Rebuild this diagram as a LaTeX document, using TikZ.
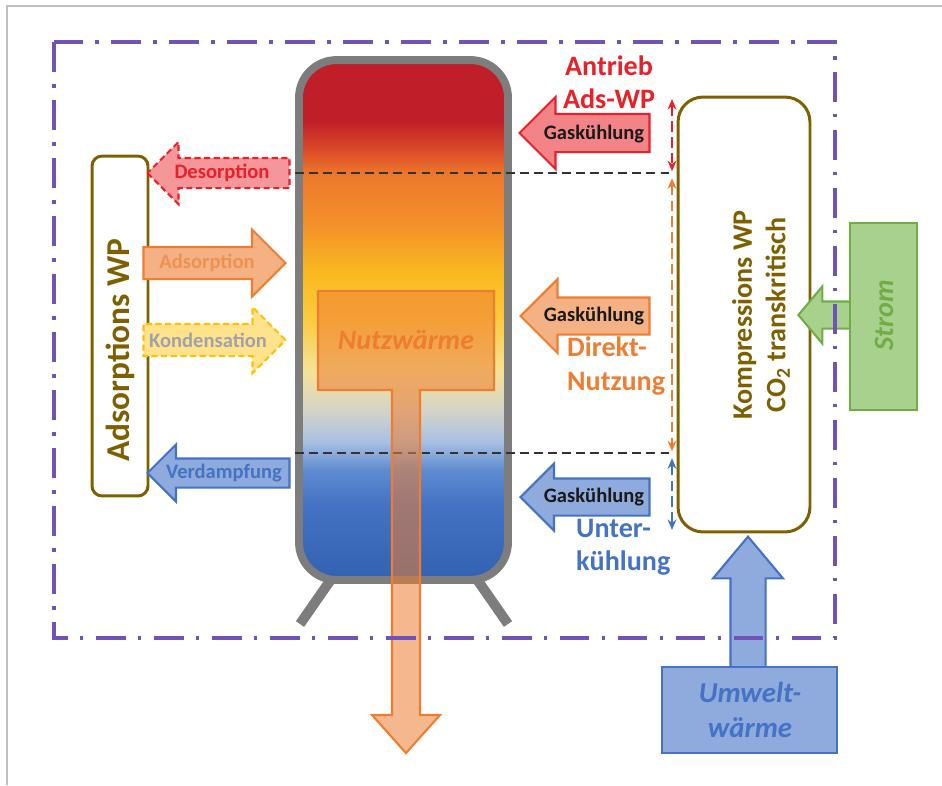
\documentclass[tikz,border=0pt]{standalone}
\usepackage{fontspec}
\setmainfont{Carlito}
\usepackage{tikz}
\usetikzlibrary{shapes.arrows,arrows.meta}

\definecolor{wpred}{RGB}{232,32,40}
\definecolor{wpredfill}{RGB}{242,132,136}
\definecolor{wporange}{RGB}{237,125,49}
\definecolor{wporangefill}{RGB}{244,177,131}
\definecolor{wpyellow}{RGB}{255,192,0}
\definecolor{wpyellowfill}{RGB}{255,226,140}
\definecolor{wpblue}{RGB}{68,114,196}
\definecolor{wpbluefill}{RGB}{143,170,220}
\definecolor{wpgreen}{RGB}{112,173,71}
\definecolor{wpgreenfill}{RGB}{169,209,142}
\definecolor{wpbrown}{RGB}{127,96,0}
\definecolor{wppurple}{RGB}{112,82,184}
\definecolor{wpgray}{RGB}{125,125,125}
\definecolor{wpgraytext}{RGB}{160,162,170}
\definecolor{wpframe}{RGB}{190,190,190}
% tank layers, bottom to top
\definecolor{tankA}{RGB}{52,98,178}
\definecolor{tankB}{RGB}{68,114,196}
\definecolor{tankC}{RGB}{95,140,208}
\definecolor{tankD}{RGB}{168,192,226}
\definecolor{tankE}{RGB}{212,212,200}
\definecolor{tankF}{RGB}{246,226,150}
\definecolor{tankG}{RGB}{252,202,62}
\definecolor{tankH}{RGB}{250,186,32}
\definecolor{tankI}{RGB}{243,142,42}
\definecolor{tankJ}{RGB}{237,120,45}
\definecolor{tankK}{RGB}{220,76,40}
\definecolor{tankL}{RGB}{192,30,40}

\pgfdeclareverticalshading{tankshade}{100bp}{color(0bp)=(tankA); color(25bp)=(tankA); color(32.2bp)=(tankB); color(35.6bp)=(tankC); color(38.3bp)=(tankD); color(41.3bp)=(tankE); color(45.2bp)=(tankF); color(50bp)=(tankG); color(54.3bp)=(tankH); color(59.6bp)=(tankI); color(64bp)=(tankJ); color(66.3bp)=(tankK); color(69.2bp)=(tankL); color(75bp)=(tankL); color(100bp)=(tankL)}

\begin{document}
\begin{tikzpicture}[x=0.02cm,y=-0.02cm,
    blockarrow/.style={single arrow, anchor=tip, minimum width=0pt, line width=1.2pt},
    dasharrow/.style={dash pattern=on 3.5pt off 2pt},
    arrowtext/.style={font=\fontsize{11.7}{14}\selectfont\bfseries},
    sidetext/.style={font=\fontsize{16}{19}\selectfont\bfseries, align=left, anchor=west},
    wpbox/.style={draw=wpbrown, line width=1.7pt, fill=white, inner sep=0pt},
    wptext/.style={font=\fontsize{16}{19}\selectfont\bfseries, text=wpbrown, rotate=90, align=center},
    levelline/.style={draw=black!80, line width=1.1pt, dash pattern=on 5pt off 3pt},
    rangearrow/.style={line width=1.3pt, dash pattern=on 6pt off 3pt, {Stealth[length=6pt,width=5pt]}-{Stealth[length=6pt,width=5pt]}},
    tankleg/.style={draw=wpgray, line width=5.7pt},
  ]
  \useasboundingbox (0,0) rectangle (942,785);
  \draw[wpframe, line width=1.1pt] (7,785) -- (7,6) -- (942,6);

  % storage tank
  \draw[tankleg] (332,578) -- (300,624);
  \draw[tankleg] (476,578) -- (508,624);
  \node[shade, shading=tankshade, draw=wpgray, line width=4.5pt, rounded corners=0.75cm,
        minimum width=4.18cm, minimum height=10.4cm, inner sep=0pt] (tank) at (403.5,320) {};

  \coordinate (hi) at (672,173);
  \coordinate (lo) at (672,453);
  \draw[levelline] (tank.west |- hi) -- (hi);
  \draw[levelline] (tank.west |- lo) -- (lo);

  % useful heat
  \draw[wporange, line width=1.2pt, fill=wporange, fill opacity=0.55]
    (392,390) -- (318,390) -- (318,291) -- (494,291) -- (494,390) -- (420,390)
    -- (420,715) -- (440,715) -- (406,753) -- (372,715) -- (392,715) -- cycle;
  \node[font=\fontsize{16}{19}\selectfont\bfseries\itshape, text=wporange] (nutz) at (406,340) {Nutzwärme};

  % adsorption heat pump
  \node[wpbox, rounded corners=0.2cm, minimum width=1.12cm, minimum height=6.8cm] (adswp) at (120,326) {};
  \node[wptext, font=\fontsize{19}{22}\selectfont\bfseries] (adstext) at (120,350) {Adsorptions WP};

  \node[blockarrow, draw=wpred, fill=wpredfill!85, dasharrow, shape border rotate=180,
        minimum height=2.84cm, inner sep=0.28cm, single arrow head extend=0.32cm] (desorp) at (146,173) {};
  \node[arrowtext, text=wpred] (desorptext) at (222,173) {Desorption};
  \node[blockarrow, draw=wporange, fill=wporangefill,
        minimum height=2.84cm, inner sep=0.3cm, single arrow head extend=0.35cm] (adsorp) at (287,263) {};
  \node[arrowtext, text=wporange!85] (adsorptext) at (207,263) {Adsorption};
  \node[blockarrow, draw=wpyellow, fill=wpyellowfill, dasharrow,
        minimum height=2.84cm, inner sep=0.3cm, single arrow head extend=0.34cm] (kond) at (287,340) {};
  \node[arrowtext, text=wpgraytext] (kondtext) at (208,340) {Kondensation};
  \node[blockarrow, draw=wpblue, fill=wpbluefill, shape border rotate=180,
        minimum height=2.84cm, inner sep=0.27cm, single arrow head extend=0.28cm] (verd) at (146,473) {};
  \node[arrowtext, text=wpblue] (verdtext) at (224,473) {Verdampfung};

  % gas cooler sections
  \node[blockarrow, draw=wpred, fill=wpredfill, shape border rotate=180,
        minimum height=2.6cm, inner sep=0.36cm, single arrow head extend=0.34cm] (gkhi) at (518,133) {};
  \node[arrowtext, text=black!90] (gkhitext) at (594,134) {Gaskühlung};
  \node[blockarrow, draw=wporange, fill=wporangefill, shape border rotate=180,
        minimum height=2.58cm, inner sep=0.35cm, single arrow head extend=0.37cm] (gkmid) at (519,316) {};
  \node[arrowtext, text=black!90] (gkmidtext) at (594,316) {Gaskühlung};
  \node[blockarrow, draw=wpblue, fill=wpbluefill, shape border rotate=180,
        minimum height=2.58cm, inner sep=0.35cm, single arrow head extend=0.3cm] (gklo) at (519,497) {};
  \node[arrowtext, text=black!90] (gklotext) at (594,497) {Gaskühlung};

  \node[sidetext, text=wpred, align=center, anchor=center] (antrieb) at (609,82) {Antrieb\\Ads-WP};
  \node[sidetext, text=wporange] (direkt) at (561,366) {Direkt-\\Nutzung};
  \node[sidetext, text=wpblue] (unter) at (570,547) {Unter-\\kühlung};

  \coordinate (rtop) at (672,99);
  \coordinate (rbot) at (672,530);
  \draw[rangearrow, wpred] (rtop) -- ([yshift=1pt]hi);
  \draw[rangearrow, wporange] ([yshift=-3pt]hi) -- ([yshift=1pt]lo);
  \draw[rangearrow, wpblue] ([yshift=-3pt]lo) -- (rbot);

  % compression heat pump
  \node[wpbox, rounded corners=0.5cm, minimum width=2.64cm, minimum height=8.7cm] (kwp) at (744,314.5) {};
  \node[wptext] (kwptext) at (761,315) {Kompressions WP\\CO\textsubscript{2} transkritisch};

  % electricity
  \node[blockarrow, draw=wpgreen, fill=wpgreenfill, shape border rotate=180, single arrow tip angle=100,
        minimum height=1.06cm, inner sep=0.25cm, single arrow head extend=0.3cm] (stromarrow) at (797,315) {};
  \node[draw=wpgreen, fill=wpgreenfill, line width=1.5pt, minimum width=1.34cm, minimum height=3.74cm] (strom) at (883.5,316.5) {};
  \node[font=\fontsize{16}{19}\selectfont\bfseries\itshape, text=wpgreen, rotate=90] (stromtext) at (884,315) {Strom};

  % ambient heat
  \node[blockarrow, draw=wpblue, fill=wpbluefill, shape border rotate=90, single arrow tip angle=80,
        minimum height=2.64cm, inner sep=0.33cm, single arrow head extend=0.35cm] (umweltarrow) at (748,535) {};
  \node[draw=wpblue, fill=wpbluefill, line width=1.5pt, minimum width=3.5cm, minimum height=1.72cm] (umwelt) at (749.5,710) {};
  \node[font=\fontsize{16.4}{19.8}\selectfont\bfseries\itshape, text=wpblue, align=center] (umwelttext) at (750,710) {Umwelt-\\wärme};

  % system boundary
  \draw[wppurple, line width=2pt, dash pattern=on 17pt off 7pt on 2pt off 7pt] (54,42) rectangle (835,638);
\end{tikzpicture}
\end{document}
